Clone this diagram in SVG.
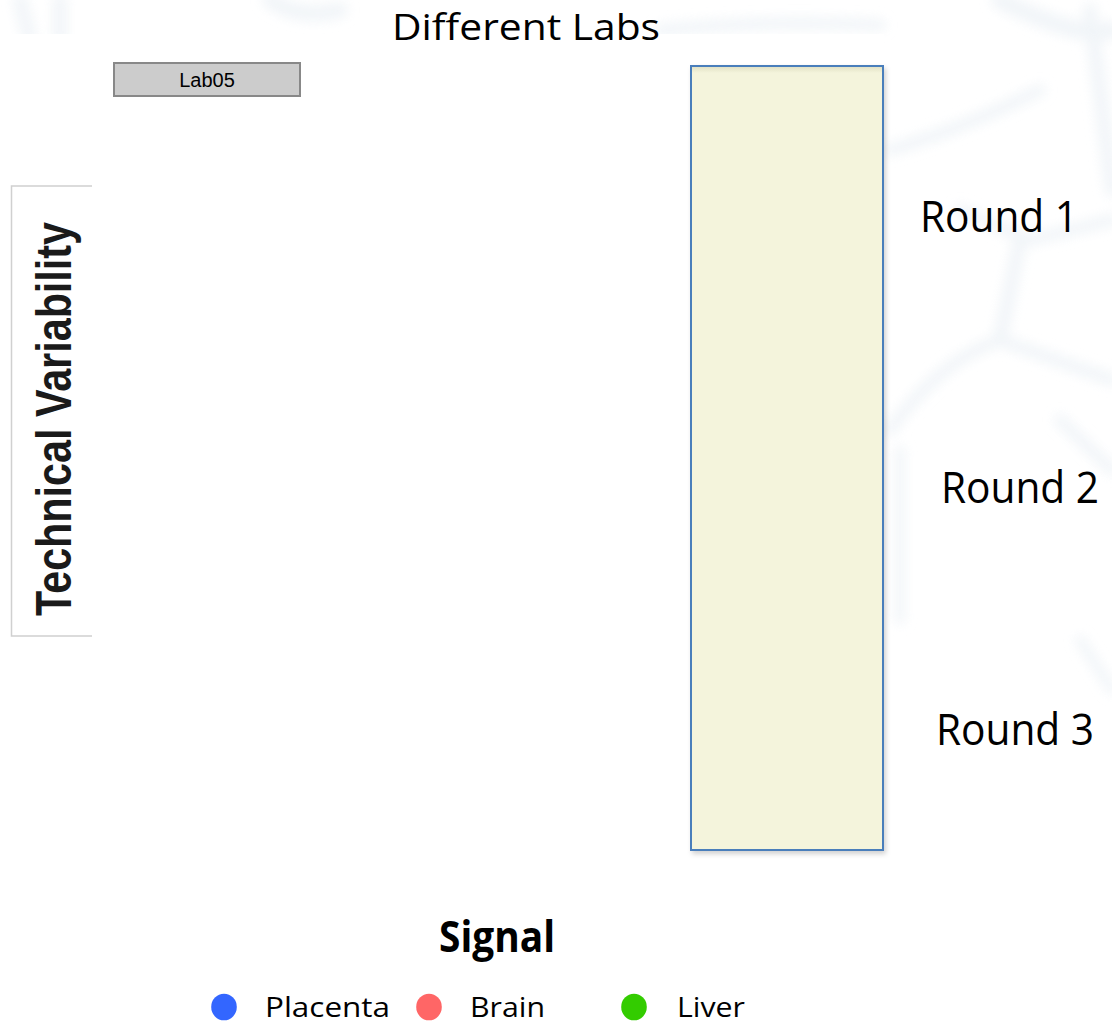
<svg xmlns="http://www.w3.org/2000/svg" width="1112" height="1025" viewBox="0 0 1112 1025">
  <style>
    .cal { font-family: "Open Sans", "Liberation Sans", sans-serif; fill: #000; }
    .round { font-size: 43px; }
    .legend { font-size: 28px; }
    .wm { fill: none; stroke: #eef3f7; stroke-linecap: round; }
  </style>
  <defs>
    <filter id="blur" x="-20%" y="-20%" width="140%" height="140%">
      <feGaussianBlur stdDeviation="6"/>
    </filter>
    <filter id="shadow" x="-10%" y="-5%" width="130%" height="110%">
      <feDropShadow dx="2" dy="3" stdDeviation="2.5" flood-color="#000" flood-opacity="0.18"/>
    </filter>
    <linearGradient id="topshade" x1="0" y1="0" x2="0" y2="1">
      <stop offset="0" stop-color="#e2e2c6"/>
      <stop offset="1" stop-color="#f4f4dc"/>
    </linearGradient>
  </defs>

  <!-- background with faint watermark -->
  <rect x="0" y="0" width="1112" height="1025" fill="#ffffff"/>
  <g id="watermark" filter="url(#blur)" opacity="0.8">
    <path class="wm" stroke-width="14" d="M20,0 L30,40 M60,0 L60,40"/>
    <path class="wm" stroke-width="16" d="M270,0 Q300,20 340,10"/>
    <path class="wm" stroke-width="12" d="M660,30 Q760,20 880,25"/>
    <path class="wm" stroke-width="18" d="M1000,0 Q1080,40 1112,30"/>
    <path class="wm" stroke-width="14" d="M1090,10 L1112,190"/>
    <path class="wm" stroke-width="12" d="M890,150 Q960,130 1040,90"/>
    <path class="wm" stroke-width="12" d="M960,210 L1030,240 L1112,220"/>
    <path class="wm" stroke-width="14" d="M1020,240 L1000,340"/>
    <path class="wm" stroke-width="12" d="M1000,340 Q940,360 890,430"/>
    <path class="wm" stroke-width="12" d="M1000,340 L1112,380"/>
    <path class="wm" stroke-width="10" d="M900,450 L900,620"/>
    <path class="wm" stroke-width="12" d="M1060,420 L1112,470"/>
    <path class="wm" stroke-width="10" d="M1080,640 L1112,690"/>
  </g>
  <rect x="0" y="34" width="884" height="991" fill="#ffffff"/>

  <!-- title -->
  <text class="cal" x="392" y="40" font-size="37" textLength="268" lengthAdjust="spacingAndGlyphs">Different Labs</text>

  <!-- Lab05 strip -->
  <g id="lab05">
    <rect x="114" y="63" width="186" height="33" fill="#cccccc" stroke="#888888" stroke-width="2"/>
    <text x="207" y="87" font-family="'Liberation Sans', Arial, sans-serif" font-size="20" text-anchor="middle" fill="#000">Lab05</text>
  </g>

  <!-- y-axis label -->
  <g id="ylabel">
    <path d="M92,186 H11.5 V636 H92" fill="#ffffff" stroke="#d0d0d0" stroke-width="1.5"/>
    <text transform="translate(71,419) rotate(-90)" x="0" y="0" text-anchor="middle" font-family="'Liberation Sans', Arial, sans-serif" font-weight="bold" font-size="50" textLength="394" lengthAdjust="spacingAndGlyphs" fill="#1a1a1a">Technical Variability</text>
  </g>

  <!-- strip panel -->
  <g id="panel">
    <rect x="691" y="66" width="192" height="784" fill="#f4f4dc" stroke="#4a7ebb" stroke-width="2" filter="url(#shadow)"/>
    <rect x="692" y="67" width="190" height="6" fill="url(#topshade)"/>
  </g>

  <!-- round labels -->
  <g id="round1"><text class="cal round" x="920" y="232" textLength="158" lengthAdjust="spacingAndGlyphs">Round 1</text></g>
  <g id="round2"><text class="cal round" x="941" y="503" textLength="158" lengthAdjust="spacingAndGlyphs">Round 2</text></g>
  <g id="round3"><text class="cal round" x="936" y="745" textLength="158" lengthAdjust="spacingAndGlyphs">Round 3</text></g>

  <!-- x axis label -->
  <g id="xlabel"><text class="cal" x="439" y="952" font-size="43" font-weight="bold" textLength="116" lengthAdjust="spacingAndGlyphs">Signal</text></g>

  <!-- legend -->
  <g id="legend">
    <ellipse cx="224" cy="1007" rx="12.8" ry="13.3" fill="#3366ff"/>
    <text class="cal legend" x="265" y="1017" textLength="125" lengthAdjust="spacingAndGlyphs">Placenta</text>
    <ellipse cx="429" cy="1007" rx="12.8" ry="13.3" fill="#ff6666"/>
    <text class="cal legend" x="470" y="1017" textLength="75" lengthAdjust="spacingAndGlyphs">Brain</text>
    <ellipse cx="634" cy="1007" rx="12.8" ry="13.3" fill="#33cc00"/>
    <text class="cal legend" x="677" y="1017" textLength="68" lengthAdjust="spacingAndGlyphs">Liver</text>
  </g>
</svg>
